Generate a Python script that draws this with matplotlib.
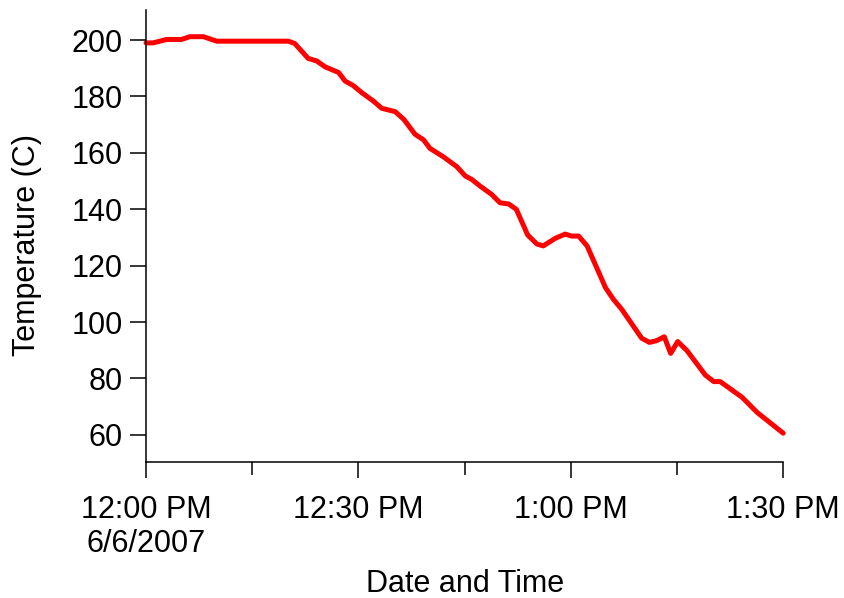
import datetime as dt

import matplotlib
matplotlib.use("Agg")
import matplotlib.pyplot as plt
import matplotlib.dates as mdates
from matplotlib.ticker import FuncFormatter

plt.rcParams["font.family"] = ["Liberation Sans", "DejaVu Sans"]

# ---------- logged temperature readings ----------
START = dt.datetime(2007, 6, 6, 12, 0)
minutes = [0, 1, 2.9, 5, 6.2, 8.1, 10, 20.1, 21, 22.9, 24.1, 25.3, 27.2, 28.1,
           29.3, 30.5, 32.1, 33.3, 35.2, 36.4, 38.0, 39.2, 40.1, 42.0, 43.9,
           45.1, 46.0, 47.2, 48.8, 50.0, 51.2, 52.3, 53.9, 55.2, 56.1, 57.8,
           59.2, 60.1, 61.1, 62.3, 64.9, 66.0, 67.2, 70.0, 71.1, 72.1, 73.2,
           74.1, 75.1, 76.4, 79.0, 80.2, 81.1, 84.2, 86.3, 90.0]
temps = [199.0, 199.0, 200.2, 200.2, 201.2, 201.2, 199.6, 199.6, 198.8, 193.5,
         192.6, 190.5, 188.5, 185.5, 183.8, 181.3, 178.4, 175.8, 174.6, 171.9,
         166.6, 164.6, 161.6, 158.6, 155.1, 151.8, 150.6, 148.2, 145.3, 142.3,
         141.9, 140.0, 130.9, 127.7, 127.0, 129.7, 131.2, 130.5, 130.5, 127.0,
         112.2, 108.1, 104.5, 94.3, 92.8, 93.4, 94.8, 88.9, 93.1, 89.9, 81.2,
         78.9, 78.9, 73.3, 68.0, 60.6]
times = [START + dt.timedelta(minutes=m) for m in minutes]

y_ticks = [60, 80, 100, 120, 140, 160, 180, 200]

fig = plt.figure(figsize=(8.44, 5.98), dpi=100)
ax = fig.add_axes([0.173, 0.227, 0.755, 0.756])

ax.plot(times, temps, color="#ff0000", linewidth=3.6,
        solid_joinstyle="round", solid_capstyle="round", clip_on=False)

ax.set_xlim(START, START + dt.timedelta(minutes=90))
ax.set_ylim(50.3, 210.6)
ax.set_yticks(y_ticks)

ax.xaxis.set_major_locator(mdates.MinuteLocator(byminute=[0, 30]))
ax.xaxis.set_minor_locator(mdates.MinuteLocator(byminute=[15, 45]))


def time_label(x, pos):
    d = mdates.num2date(x)
    s = d.strftime("%I:%M %p").lstrip("0")
    if pos == 0:
        s += "\n" + f"{d.month}/{d.day}/{d.year}"
    return s


ax.xaxis.set_major_formatter(FuncFormatter(time_label))

for side in ("top", "right"):
    ax.spines[side].set_visible(False)
for side in ("left", "bottom"):
    ax.spines[side].set_linewidth(1.1)

ax.tick_params(axis="both", which="major", direction="out", length=11.5,
               width=1.1, labelsize=22)
ax.tick_params(axis="x", which="major", pad=12)
ax.tick_params(axis="y", which="major", pad=5.5)
ax.tick_params(axis="x", which="minor", direction="out", length=9, width=1.1)

ax.set_xlabel("Date and Time", fontsize=22)
ax.set_ylabel("Temperature (C)", fontsize=22)
ax.xaxis.set_label_coords(0.5, -0.237)
ax.yaxis.set_label_coords(-0.163, 0.48)

fig.savefig("out.png", dpi=100)
